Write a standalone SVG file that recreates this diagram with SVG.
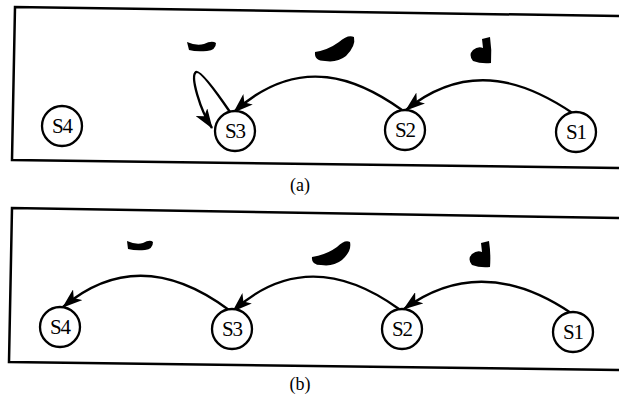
<svg xmlns="http://www.w3.org/2000/svg" width="619" height="409" viewBox="0 0 619 409">
<defs>
<style>
.frame{fill:none;stroke:#000;stroke-width:2.5}
.node circle{fill:#fff;stroke:#000;stroke-width:2.3}
.node text{font-family:"Liberation Serif",serif;font-size:21px;text-anchor:middle;dominant-baseline:central;fill:#000;letter-spacing:-1px}
.edge{fill:none;stroke:#000;stroke-width:2.4;marker-end:url(#ah)}
.blob{fill:#000}
.cap{font-family:"Liberation Serif",serif;font-size:18px;text-anchor:middle;fill:#000}
</style>
<marker id="ah" viewBox="0 0 20 14" refX="19" refY="7" markerWidth="20" markerHeight="14" markerUnits="userSpaceOnUse" orient="auto">
<path d="M0,0 L20,7 L0,14 L5,7 Z" fill="#000"/>
</marker>
</defs>
<path class="frame" d="M619,16 L15,7 L12,160 L619,168"/>
<path class="frame" d="M619,218 L12,208 L9,362 L619,370"/>
<g id="blobs">
<path class="blob" d="M187,42 Q196,46 204,44 Q212,40 216,43 Q216,50 207,51 Q196,52 189,50 Z"/>
<path class="blob" d="M315,52 Q328,50 339,42 Q348,34 354,37 Q356,46 346,56 Q337,63 325,61 Q314,61 315,52 Z"/>
<path class="blob" d="M482,39 L490,37 Q492,50 491,63 Q481,64 473,61 Q468,55 473,50 Q478,46 483,48 Z"/>
<path class="blob" d="M127,241 Q136,245 143,243 Q150,239 153,242 Q153,249 145,250 Q136,251 128,249 Z"/>
<path class="blob" d="M312,257 Q326,255 337,247 Q345,239 350,242 Q352,251 342,260 Q333,267 321,265 Q311,265 312,257 Z"/>
<path class="blob" d="M481,243 L489,241 Q491,254 490,267 Q480,268 472,265 Q467,259 472,254 Q477,250 482,252 Z"/>
</g>
<g id="connectors">
<path class="edge" d="M574,114 C530,84 470,58 406,110"/>
<path class="edge" d="M402,110 C360,80 300,52 234,112"/>
<path class="edge" d="M230,112 C215,90 200,70 196,72 C190,76 200,110 212,128"/>
<path class="edge" d="M571,313 C528,284 468,262 404,309"/>
<path class="edge" d="M399,309 C356,278 296,254 233,311"/>
<path class="edge" d="M229,310 C186,278 126,254 63,307"/>
</g>
<g id="a-s4" class="node"><circle cx="62" cy="126" r="20"/><text x="62" y="126">S4</text></g>
<g id="a-s3" class="node"><circle cx="235" cy="131" r="20"/><text x="235" y="131">S3</text></g>
<g id="a-s2" class="node"><circle cx="405" cy="130" r="20"/><text x="405" y="130">S2</text></g>
<g id="a-s1" class="node"><circle cx="576" cy="132" r="20"/><text x="576" y="132">S1</text></g>
<g id="b-s4" class="node"><circle cx="60" cy="327" r="20"/><text x="60" y="327">S4</text></g>
<g id="b-s3" class="node"><circle cx="232" cy="329" r="20"/><text x="232" y="329">S3</text></g>
<g id="b-s2" class="node"><circle cx="402" cy="329" r="20"/><text x="402" y="329">S2</text></g>
<g id="b-s1" class="node"><circle cx="573" cy="332" r="20"/><text x="573" y="332">S1</text></g>
<text class="cap" x="300" y="191">(a)</text>
<text class="cap" x="300" y="390">(b)</text>
</svg>
